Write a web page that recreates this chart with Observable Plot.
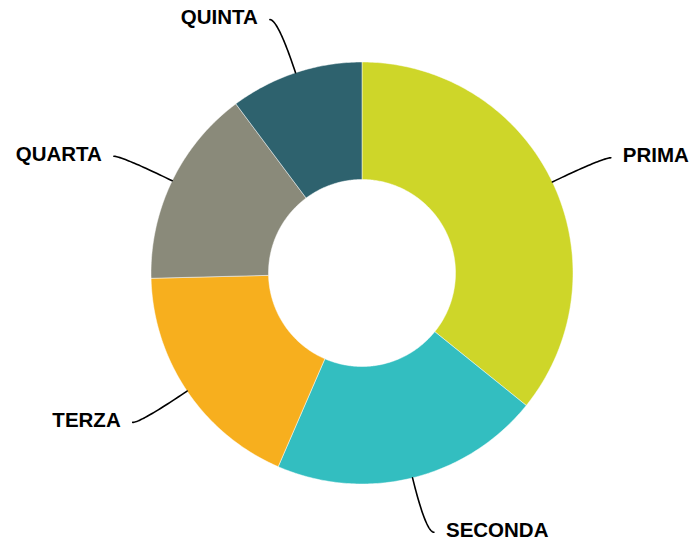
<!DOCTYPE html>
<html>
<head>
<meta charset="utf-8">
<script src="https://cdn.jsdelivr.net/npm/d3@7"></script>
<script src="https://cdn.jsdelivr.net/npm/@observablehq/plot@0.6"></script>
<style>
  html, body { margin: 0; padding: 0; background: #ffffff; }
  #chart { width: 693px; height: 540px; }
</style>
</head>
<body>
<div id="chart"></div>
<script>
// Data
const categories = ["PRIMA", "SECONDA", "TERZA", "QUARTA", "QUINTA"];
const values = [35.8, 20.7, 18.1, 15.2, 10.2];
const colors = ["#ced629", "#33bec0", "#f7af1e", "#8a8a7a", "#2e626e"];

// Layout (pixel space)
const W = 693, H = 540;
const cx = 361.5, cy = 272.5;
const rOuter = 211, rInner = 93.5, rElbow = 267;
const tail = 8, gap = 12;

const pie = d3.pie().sort(null).value(d => d.value)(
  categories.map((c, i) => ({ category: c, value: values[i] }))
);

const polar = (a, r) => [cx + r * Math.sin(a), cy - r * Math.cos(a)];

// Slice polygons
const slicePts = [];
pie.forEach(p => {
  const n = Math.max(8, Math.ceil((p.endAngle - p.startAngle) * 80));
  for (let k = 0; k <= n; k++) {
    const a = p.startAngle + (p.endAngle - p.startAngle) * k / n;
    const [x, y] = polar(a, rOuter);
    slicePts.push({ category: p.data.category, x, y });
  }
  for (let k = n; k >= 0; k--) {
    const a = p.startAngle + (p.endAngle - p.startAngle) * k / n;
    const [x, y] = polar(a, rInner);
    slicePts.push({ category: p.data.category, x, y });
  }
  const [x0, y0] = polar(p.startAngle, rOuter);
  slicePts.push({ category: p.data.category, x: x0, y: y0 });
});

// Leader lines and labels
const leaderPts = [];
const labels = [];
pie.forEach(p => {
  const mid = (p.startAngle + p.endAngle) / 2;
  const right = Math.sin(mid) > 0;
  const P0 = polar(mid, rOuter);
  const C = polar(mid, rElbow);
  const E = [C[0] + (right ? tail : -tail), C[1]];
  const n = 30;
  for (let k = 0; k <= n; k++) {
    const t = k / n;
    const x = (1 - t) * (1 - t) * P0[0] + 2 * (1 - t) * t * C[0] + t * t * E[0];
    const y = (1 - t) * (1 - t) * P0[1] + 2 * (1 - t) * t * C[1] + t * t * E[1];
    leaderPts.push({ category: p.data.category, x, y });
  }
  labels.push({
    category: p.data.category,
    x: E[0] + (right ? gap : -gap),
    y: E[1],
    anchor: right ? "start" : "end"
  });
});

const chart = Plot.plot({
  width: W,
  height: H,
  margin: 0,
  x: { domain: [0, W], range: [0, W], axis: null },
  y: { domain: [0, H], range: [0, H], axis: null },
  color: { domain: categories, range: colors },
  style: { background: "#ffffff" },
  marks: [
    Plot.line(slicePts, {
      x: "x", y: "y", z: "category",
      fill: "category", stroke: "#ffffff", strokeWidth: 0.6, strokeOpacity: 0.8,
      curve: "linear"
    }),
    Plot.line(leaderPts, {
      x: "x", y: "y", z: "category",
      stroke: "#000000", strokeWidth: 1.6, fill: "none"
    }),
    Plot.text(labels.filter(d => d.anchor === "start"), {
      x: "x", y: "y", text: "category",
      textAnchor: "start", dy: -2,
      fontSize: 20.5, fontWeight: "bold",
      fontFamily: "'Liberation Sans', Arial, sans-serif", fill: "#000000"
    }),
    Plot.text(labels.filter(d => d.anchor === "end"), {
      x: "x", y: "y", text: "category",
      textAnchor: "end", dy: -2,
      fontSize: 20.5, fontWeight: "bold",
      fontFamily: "'Liberation Sans', Arial, sans-serif", fill: "#000000"
    })
  ]
});

document.getElementById("chart").appendChild(chart);
</script>
</body>
</html>
